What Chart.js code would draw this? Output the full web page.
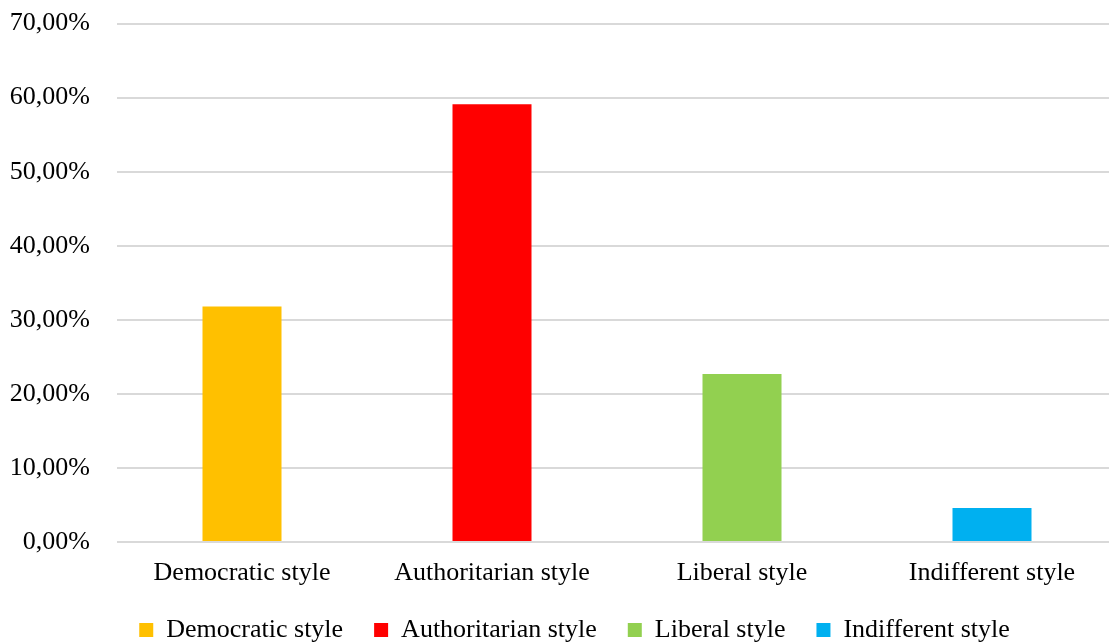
<!DOCTYPE html>
<html>
<head>
<meta charset="utf-8">
<script src="https://cdn.jsdelivr.net/npm/chart.js@4.4.1/dist/chart.umd.min.js"></script>
<style>
  html, body { margin: 0; padding: 0; background: #fff; overflow: hidden; }
  #wrap { position: relative; width: 1118px; height: 672px; margin-top: -19px; }
</style>
</head>
<body>
<div id="wrap"><canvas id="chart"></canvas></div>
<script>
// categories and values (percent)
const categories = ['Democratic style', 'Authoritarian style', 'Liberal style', 'Indifferent style'];
const values = [31.8, 59.1, 22.7, 4.6];
const colors = ['#FFC000', '#FF0000', '#92D050', '#00B0F0'];
const yTicks = [0, 10, 20, 30, 40, 50, 60, 70];

// one dataset per category so every style gets its own legend entry
let datasets = categories.map(function (name, i) {
  return {
    label: name,
    data: categories.map(function (c, j) { return j == i ? values[i] : null; }),
    backgroundColor: colors[i],
    borderWidth: 0,
    grouped: false,
    categoryPercentage: 1,
    barPercentage: 0.316
  };
});

// legend sits a bit right of the canvas centre in the original
const legendShift = {
  id: 'legendShift',
  afterLayout: function (chart) {
    chart.legend.left += 16;
    chart.legend.right += 16;
  }
};

Chart.defaults.font.family = '"Liberation Serif", "Times New Roman", serif';
Chart.defaults.color = '#000';

new Chart(document.getElementById('chart'), {
  type: 'bar',
  data: { labels: categories, datasets: datasets },
  plugins: [legendShift],
  options: {
    responsive: true,
    maintainAspectRatio: false,
    animation: false,
    layout: { autoPadding: false, padding: { top: 24, right: 1, left: 0, bottom: 0 } },
    plugins: {
      tooltip: { enabled: false },
      legend: {
        position: 'bottom',
        labels: {
          boxWidth: 14,
          boxHeight: 14,
          padding: 31,
          font: { size: 26 }
        }
      }
    },
    scales: {
      x: {
        grid: { display: false, drawTicks: false },
        border: { display: false },
        ticks: { font: { size: 26 }, padding: 16 },
        afterFit: function (axis) { axis.height = 44; }
      },
      y: {
        min: 0,
        max: 70,
        afterBuildTicks: function (axis) {
          axis.ticks = yTicks.map(function (v) { return { value: v }; });
        },
        afterFit: function (axis) { axis.width = 117; },
        grid: { color: '#d9d9d9', lineWidth: 2, drawTicks: false },
        border: { display: false },
        ticks: {
          font: { size: 26 },
          padding: 27,
          callback: function (v) { return v.toFixed(2).replace('.', ',') + '%'; }
        }
      }
    }
  }
});
</script>
</body>
</html>
